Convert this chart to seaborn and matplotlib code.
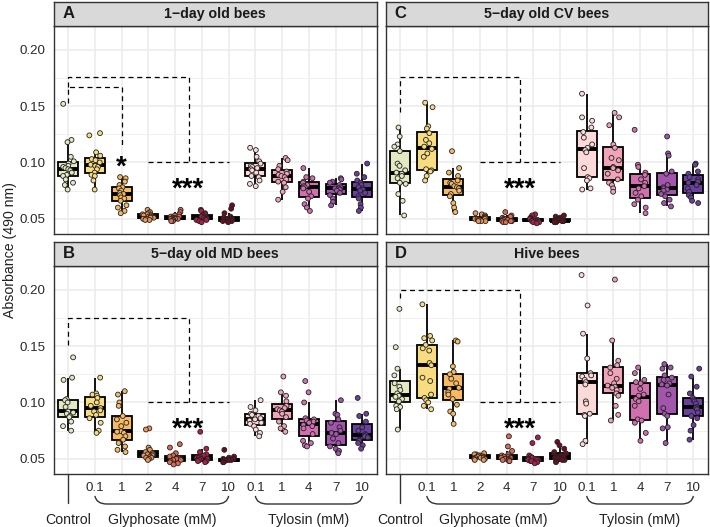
import numpy as np
import pandas as pd
import matplotlib
matplotlib.use("Agg")
import matplotlib.pyplot as plt
import matplotlib.transforms as mtransforms
from matplotlib.path import Path
from matplotlib.patches import PathPatch
import seaborn as sns

# ─── data (absorbance) ───────────────────────────────────────────────────────
groups = ["Control", "G0.1", "G1", "G2", "G4", "G7", "G10",
          "T0.1", "T1", "T4", "T7", "T10"]
tick_labels = ["", "0.1", "1", "2", "4", "7", "10", "0.1", "1", "4", "7", "10"]
colors = ["#E3E9C2", "#F8DC82", "#F7BA62", "#EE9558", "#DC6B53", "#B01E4C",
          "#6C0E1F", "#FBDAD9", "#EFA4B8", "#D070AF", "#A155AB", "#6A3F9F"]

bees_1day = {
    "Control": [0.152, 0.120, 0.118, 0.105, 0.101, 0.099, 0.097, 0.096, 0.095,
                0.094, 0.093, 0.091, 0.089, 0.088, 0.085, 0.082, 0.080, 0.076],
    "G0.1": [0.126, 0.124, 0.109, 0.106, 0.103, 0.102, 0.100, 0.098, 0.097,
             0.096, 0.094, 0.091, 0.089, 0.088, 0.084, 0.076],
    "G1": [0.087, 0.086, 0.083, 0.080, 0.078, 0.077, 0.075, 0.073, 0.072,
           0.071, 0.069, 0.068, 0.066, 0.062, 0.060, 0.057, 0.055],
    "G2": [0.058, 0.056, 0.055, 0.054, 0.054, 0.053, 0.053, 0.052, 0.052,
           0.051, 0.051, 0.050, 0.050, 0.049, 0.049],
    "G4": [0.058, 0.056, 0.054, 0.053, 0.052, 0.052, 0.051, 0.051, 0.050,
           0.050, 0.050, 0.049, 0.049, 0.048, 0.048],
    "G7": [0.058, 0.057, 0.055, 0.054, 0.053, 0.052, 0.052, 0.051, 0.051,
           0.050, 0.050, 0.049, 0.049, 0.048, 0.047],
    "G10": [0.062, 0.059, 0.055, 0.052, 0.051, 0.050, 0.050, 0.050, 0.049,
            0.049, 0.049, 0.048, 0.048, 0.048, 0.047],
    "T0.1": [0.113, 0.111, 0.105, 0.101, 0.099, 0.097, 0.096, 0.095, 0.094,
             0.093, 0.091, 0.088, 0.087, 0.084, 0.081, 0.079],
    "T1": [0.104, 0.102, 0.097, 0.094, 0.092, 0.090, 0.089, 0.088, 0.087,
           0.085, 0.083, 0.082, 0.078, 0.074, 0.067],
    "T4": [0.095, 0.087, 0.086, 0.083, 0.082, 0.080, 0.079, 0.078, 0.077,
           0.074, 0.070, 0.068, 0.063, 0.060, 0.057],
    "T7": [0.086, 0.085, 0.083, 0.082, 0.080, 0.078, 0.077, 0.077, 0.076,
           0.075, 0.073, 0.071, 0.068, 0.065, 0.062],
    "T10": [0.099, 0.090, 0.087, 0.084, 0.082, 0.080, 0.078, 0.077, 0.076,
            0.075, 0.073, 0.070, 0.068, 0.063, 0.060, 0.057],
}

bees_md = {
    "Control": [0.140, 0.122, 0.120, 0.103, 0.102, 0.100, 0.096, 0.092, 0.091,
                0.090, 0.088, 0.087, 0.083, 0.079, 0.075],
    "G0.1": [0.122, 0.108, 0.107, 0.106, 0.104, 0.100, 0.097, 0.095, 0.093,
             0.092, 0.089, 0.086, 0.082, 0.075, 0.073],
    "G1": [0.110, 0.107, 0.100, 0.097, 0.088, 0.085, 0.082, 0.079, 0.0745,
           0.074, 0.073, 0.070, 0.067, 0.064, 0.061, 0.058, 0.056],
    "G2": [0.077, 0.076, 0.060, 0.058, 0.056, 0.055, 0.054, 0.054, 0.053,
           0.053, 0.052, 0.051, 0.051, 0.050, 0.049],
    "G4": [0.063, 0.060, 0.055, 0.053, 0.052, 0.051, 0.050, 0.050, 0.050,
           0.049, 0.049, 0.048, 0.047, 0.046, 0.045],
    "G7": [0.074, 0.059, 0.056, 0.054, 0.053, 0.052, 0.051, 0.051, 0.050,
           0.050, 0.049, 0.049, 0.048, 0.048, 0.047],
    "G10": [0.058, 0.052, 0.051, 0.050, 0.050, 0.049, 0.049, 0.049, 0.049,
            0.048, 0.048, 0.048, 0.047, 0.047],
    "T0.1": [0.102, 0.096, 0.093, 0.090, 0.089, 0.088, 0.086, 0.085, 0.084,
             0.082, 0.081, 0.079, 0.076, 0.073, 0.070],
    "T1": [0.123, 0.109, 0.106, 0.101, 0.097, 0.095, 0.094, 0.093, 0.092,
           0.090, 0.087, 0.083, 0.079, 0.077, 0.074],
    "T4": [0.119, 0.109, 0.100, 0.086, 0.085, 0.084, 0.083, 0.082, 0.080,
           0.079, 0.077, 0.072, 0.066, 0.064, 0.062, 0.061],
    "T7": [0.102, 0.090, 0.089, 0.085, 0.082, 0.078, 0.075, 0.073, 0.072,
           0.068, 0.064, 0.061, 0.059, 0.057, 0.055],
    "T10": [0.104, 0.090, 0.088, 0.083, 0.078, 0.075, 0.072, 0.071, 0.070,
            0.069, 0.067, 0.066, 0.064, 0.062, 0.059],
}

bees_cv = {
    "Control": [0.131, 0.123, 0.116, 0.114, 0.110, 0.099, 0.097, 0.093, 0.091,
                0.090, 0.088, 0.086, 0.082, 0.081, 0.072, 0.066, 0.053],
    "G0.1": [0.153, 0.149, 0.132, 0.130, 0.126, 0.120, 0.117, 0.114, 0.112,
             0.108, 0.105, 0.094, 0.093, 0.092, 0.088, 0.084],
    "G1": [0.110, 0.095, 0.091, 0.088, 0.084, 0.082, 0.081, 0.079, 0.078,
           0.077, 0.075, 0.072, 0.070, 0.064, 0.060, 0.056],
    "G2": [0.055, 0.054, 0.053, 0.052, 0.051, 0.051, 0.051, 0.050, 0.050,
           0.050, 0.049, 0.049, 0.048, 0.048, 0.048],
    "G4": [0.056, 0.053, 0.052, 0.051, 0.050, 0.050, 0.049, 0.049, 0.049,
           0.049, 0.048, 0.048, 0.048, 0.047, 0.047],
    "G7": [0.054, 0.053, 0.051, 0.050, 0.050, 0.049, 0.049, 0.049, 0.048,
           0.048, 0.048, 0.048, 0.047, 0.047, 0.046],
    "G10": [0.053, 0.052, 0.051, 0.050, 0.049, 0.049, 0.049, 0.048, 0.048,
            0.048, 0.048, 0.047, 0.047, 0.047],
    "T0.1": [0.161, 0.140, 0.137, 0.131, 0.127, 0.122, 0.116, 0.113, 0.111,
             0.109, 0.095, 0.087, 0.086, 0.084, 0.077, 0.076],
    "T1": [0.144, 0.140, 0.133, 0.116, 0.113, 0.104, 0.102, 0.096, 0.095,
           0.093, 0.090, 0.085, 0.082, 0.080, 0.077, 0.074],
    "T4": [0.129, 0.098, 0.096, 0.091, 0.089, 0.085, 0.082, 0.079, 0.077,
           0.073, 0.070, 0.067, 0.063, 0.060, 0.055],
    "T7": [0.123, 0.108, 0.106, 0.092, 0.090, 0.080, 0.078, 0.077, 0.076,
           0.075, 0.072, 0.070, 0.067, 0.064, 0.061],
    "T10": [0.099, 0.098, 0.092, 0.090, 0.087, 0.085, 0.083, 0.082, 0.080,
            0.077, 0.074, 0.071, 0.069, 0.066, 0.064],
}

bees_hive = {
    "Control": [0.183, 0.149, 0.130, 0.124, 0.117, 0.114, 0.111, 0.108, 0.106,
                0.105, 0.103, 0.101, 0.097, 0.096, 0.094, 0.076],
    "G0.1": [0.187, 0.159, 0.157, 0.155, 0.151, 0.148, 0.146, 0.135, 0.133,
             0.122, 0.119, 0.107, 0.104, 0.102, 0.100, 0.097, 0.094],
    "G1": [0.155, 0.154, 0.132, 0.127, 0.125, 0.121, 0.117, 0.113, 0.112,
           0.109, 0.107, 0.103, 0.098, 0.092, 0.090, 0.081],
    "G2": [0.055, 0.054, 0.054, 0.053, 0.053, 0.052, 0.052, 0.052, 0.051,
           0.051, 0.051, 0.050, 0.050, 0.049, 0.049],
    "G4": [0.070, 0.061, 0.057, 0.054, 0.053, 0.052, 0.052, 0.051, 0.051,
           0.050, 0.050, 0.049, 0.049, 0.048, 0.048],
    "G7": [0.069, 0.064, 0.053, 0.052, 0.051, 0.050, 0.050, 0.050, 0.049,
           0.049, 0.049, 0.048, 0.048, 0.047, 0.046],
    "G10": [0.065, 0.062, 0.059, 0.056, 0.055, 0.053, 0.052, 0.052, 0.051,
            0.051, 0.050, 0.050, 0.049, 0.049, 0.048, 0.047],
    "T0.1": [0.213, 0.186, 0.161, 0.139, 0.126, 0.124, 0.123, 0.120, 0.118,
             0.116, 0.101, 0.099, 0.090, 0.089, 0.088, 0.066, 0.063],
    "T1": [0.209, 0.155, 0.137, 0.133, 0.131, 0.126, 0.121, 0.117, 0.115,
           0.114, 0.113, 0.111, 0.108, 0.106, 0.097, 0.089, 0.084],
    "T4": [0.131, 0.126, 0.120, 0.118, 0.117, 0.112, 0.107, 0.106, 0.103,
           0.101, 0.097, 0.085, 0.084, 0.082, 0.073, 0.066],
    "T7": [0.134, 0.131, 0.130, 0.124, 0.122, 0.120, 0.117, 0.116, 0.115,
           0.107, 0.095, 0.090, 0.088, 0.078, 0.077, 0.064],
    "T10": [0.130, 0.123, 0.114, 0.108, 0.104, 0.102, 0.101, 0.099, 0.096,
            0.095, 0.094, 0.091, 0.088, 0.086, 0.080, 0.075, 0.067],
}

# significance brackets: (left drop, top, right x, right drop)
brackets_1day = [(0.153, 0.167, 2.0, 0.113), (0.167, 0.176, 4.5, 0.100)]
brackets_md = [(0.151, 0.175, 4.5, 0.100)]
brackets_cv = [(0.145, 0.176, 4.5, 0.100)]
brackets_hive = [(0.193, 0.200, 4.5, 0.100)]

# ─── layout ──────────────────────────────────────────────────────────────────
sns.set_style("white")
plt.rcParams["font.family"] = ["Liberation Sans", "DejaVu Sans"]
np.random.seed(7)

W, H = 710, 527
DARK = "#333333"
fig = plt.figure(figsize=(W / 100, H / 100), dpi=100)


def px_axes(x0, y0, x1, y1):
    return fig.add_axes([x0 / W, 1 - y1 / H, (x1 - x0) / W, (y1 - y0) / H])


panels = [
    # letter, title, data, brackets, col, row
    ("A", "1\u2212day old bees", bees_1day, brackets_1day, 0, 0),
    ("B", "5\u2212day old MD bees", bees_md, brackets_md, 0, 1),
    ("C", "5\u2212day old CV bees", bees_cv, brackets_cv, 1, 0),
    ("D", "Hive bees", bees_hive, brackets_hive, 1, 1),
]
cols = [(53.5, 377.0), (385.5, 708.0)]
rows = [((2, 26), (26, 233.5)), ((242, 266), (266, 473.5))]

for letter, title, data, brackets, ci, ri in panels:
    x0, x1 = cols[ci]
    (sy0, sy1), (py0, py1) = rows[ri]

    ax = px_axes(x0, py0, x1, py1)
    df = pd.DataFrame([(g, v) for g in groups for v in data[g]],
                      columns=["group", "value"])

    sns.boxplot(data=df, x="group", y="value", hue="group", order=groups,
                hue_order=groups, palette=colors, saturation=1, width=0.75,
                linewidth=1.3, linecolor="black", showfliers=False,
                medianprops={"linewidth": 2.8}, capprops={"linewidth": 0},
                legend=False, ax=ax)
    sns.stripplot(data=df, x="group", y="value", hue="group", order=groups,
                  hue_order=groups, palette=colors, jitter=0.22, size=3.5,
                  linewidth=0.6, edgecolor="#222222", legend=False, ax=ax,
                  zorder=3)

    ax.set_xlim(-0.55, 11.55)
    ax.set_ylim(0.037, 0.221)
    ax.set_xlabel("")
    ax.set_ylabel("")
    ax.set_yticks([0.05, 0.10, 0.15, 0.20])
    ax.set_yticks([0.075, 0.125, 0.175], minor=True)
    ax.set_yticklabels(["0.05", "0.10", "0.15", "0.20"])
    ax.set_xticks(range(len(groups)))
    ax.set_xticklabels(tick_labels)
    ax.grid(which="major", color="#EBEBEB", linewidth=1.1)
    ax.grid(which="minor", axis="y", color="#F0F0F0", linewidth=0.7)
    ax.set_axisbelow(True)
    for s in ax.spines.values():
        s.set_color(DARK)
        s.set_linewidth(1.0)

    ax.tick_params(axis="both", which="major", length=3.5, width=0.9,
                   color=DARK, labelsize=9.6, labelcolor="#2B2B2B", pad=2.5)
    ax.tick_params(axis="y", which="minor", left=False)
    if ci == 1:
        ax.tick_params(axis="y", left=False, labelleft=False)
    if ri == 0:
        ax.tick_params(axis="x", bottom=False, labelbottom=False)

    # dashed significance brackets
    for drop_l, top, xr, drop_r in brackets:
        ax.plot([0, 0, xr, xr], [drop_l, top, top, drop_r], color="black",
                linewidth=0.9, linestyle=(0, (4, 3)), zorder=4)
    ax.plot([groups.index("G2"), groups.index("G10")], [0.100, 0.100],
            color="black", linewidth=0.9, linestyle=(0, (4, 3)), zorder=4)
    ax.text(4.5, 0.0695, "***", ha="center", va="baseline", fontsize=20,
            fontweight="bold", color="black", zorder=5)
    if letter == "A":
        ax.text(2, 0.0895, "*", ha="center", va="baseline", fontsize=20,
                fontweight="bold", color="black", zorder=5)

    # x-axis group annotations on bottom row
    if ri == 1:
        trans = mtransforms.blended_transform_factory(ax.transData,
                                                      ax.transAxes)
        ax.plot([0, 0], [0, -0.142], transform=trans, clip_on=False,
                color=DARK, linewidth=1.0)
        ax.text(0, -0.225, "Control", transform=trans, ha="center",
                va="center", fontsize=10.2, color="#222222")
        for a, b, name in [("G0.1", "G10", "Glyphosate (mM)"),
                           ("T0.1", "T10", "Tylosin (mM)")]:
            xa, xb = groups.index(a), groups.index(b)
            top, bot = -0.108, -0.147
            verts = [(xa, top), (xa + 0.05, bot), (xa + 0.45, bot),
                     (xb - 0.45, bot), (xb - 0.05, bot), (xb, top)]
            codes = [Path.MOVETO, Path.CURVE3, Path.CURVE3, Path.LINETO,
                     Path.CURVE3, Path.CURVE3]
            ax.add_patch(PathPatch(Path(verts, codes), transform=trans,
                                   fill=False, edgecolor=DARK, linewidth=1.0,
                                   clip_on=False))
            ax.text((xa + xb) / 2, -0.225, name, transform=trans,
                    ha="center", va="center", fontsize=10.2, color="#222222")

    # facet strip
    sax = px_axes(x0, sy0, x1, sy1)
    sax.set_facecolor("#D9D9D9")
    sax.set_xticks([])
    sax.set_yticks([])
    for s in sax.spines.values():
        s.set_color(DARK)
        s.set_linewidth(1.0)
    sax.text(0.5, 0.5, title, ha="center", va="center", fontsize=10.2,
             fontweight="bold", color="#1A1A1A", transform=sax.transAxes)
    sax.text(15 / (x1 - x0), 0.5, letter, ha="center", va="center",
             fontsize=12, fontweight="bold", color="#1A1A1A",
             transform=sax.transAxes)

fig.text(10 / W, 1 - 250 / H, "Absorbance (490 nm)", rotation=90,
         ha="center", va="center", fontsize=10.2, color="#222222")

fig.savefig("out.png", dpi=100, facecolor="white")
